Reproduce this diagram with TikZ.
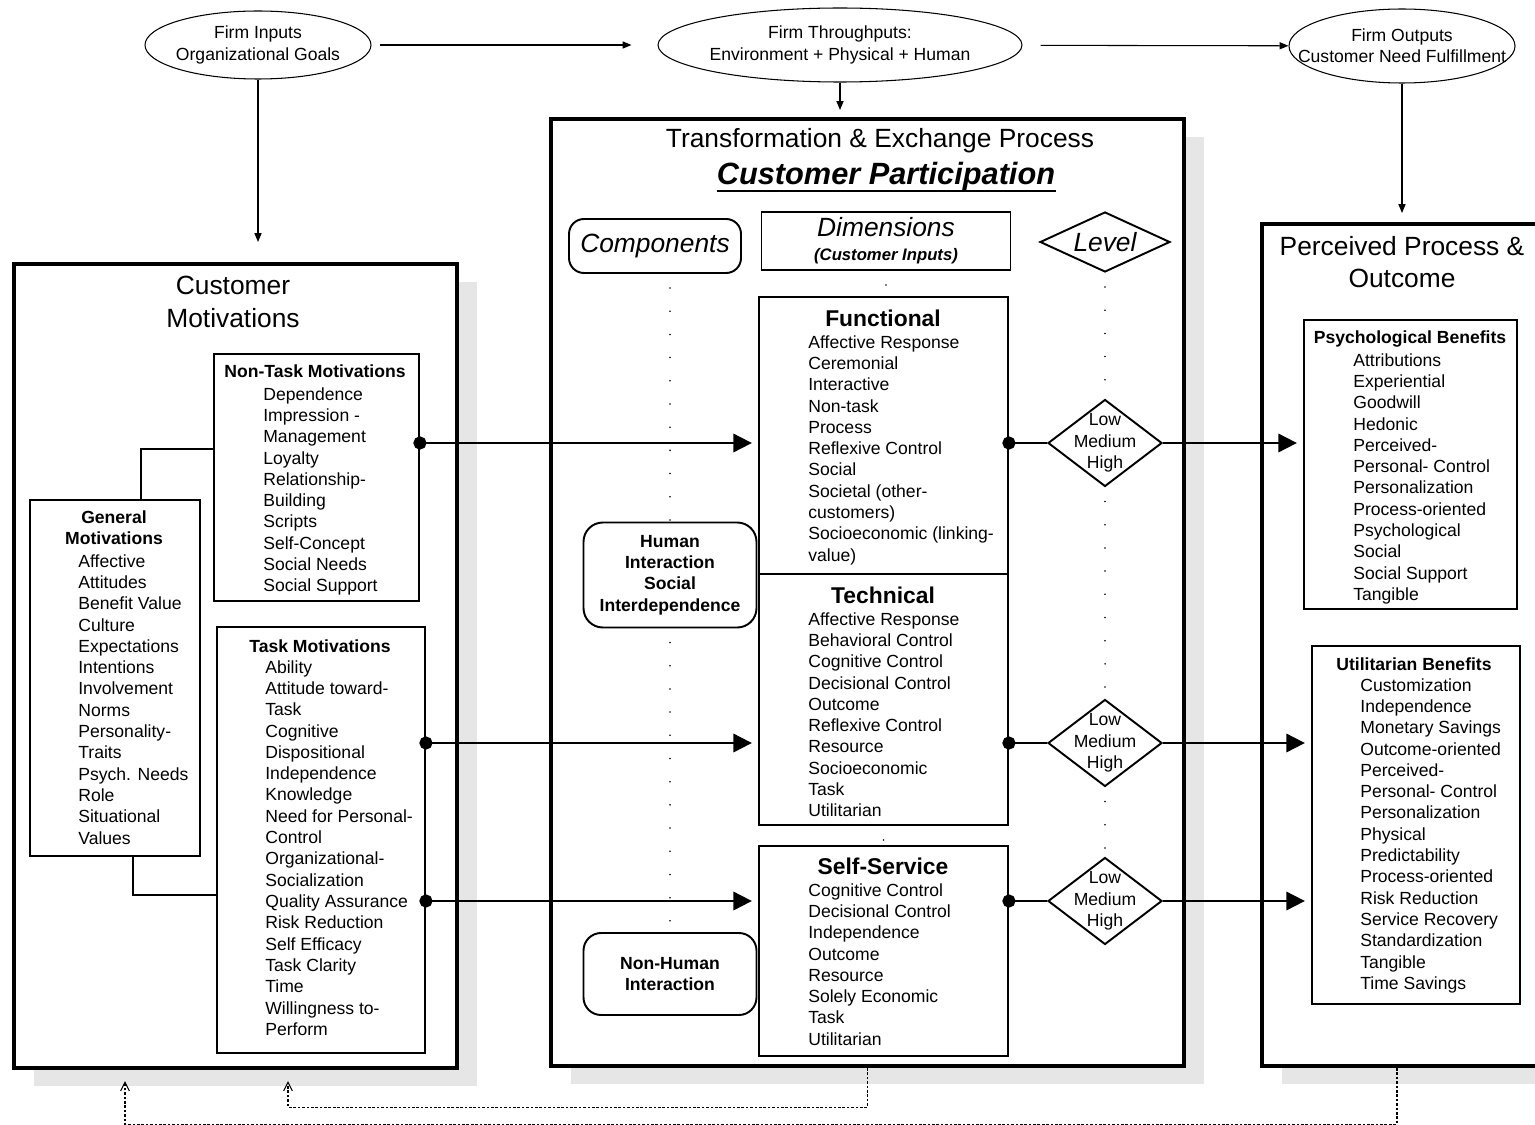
\documentclass[tikz,border=0pt]{standalone}
\usepackage{fontspec}
\setmainfont{Liberation Sans}
\usetikzlibrary{shapes.geometric,arrows.meta,calc,shadows}
\definecolor{shadowgray}{HTML}{E6E6E6}
\newdimen\unitpx \unitpx=0.02cm

\begin{document}
\begin{tikzpicture}[x=0.02cm, y=-0.02cm,
    font=\fontsize{10}{12.13}\selectfont,
    bigbox/.style={draw, line width=2.3pt, fill=white, anchor=north west, inner sep=0,
      drop shadow={shadow xshift=20\unitpx, shadow yshift=-18\unitpx, fill=shadowgray, opacity=1}},
    listbox/.style={draw, line width=1.1pt, fill=white, anchor=north west, inner sep=0},
    roundbox/.style={draw, line width=1.1pt, fill=white, align=center, inner sep=0},
    firmnode/.style={draw, ellipse, line width=0.6pt, inner sep=0},
    lvl/.style={draw, diamond, line width=1.1pt, fill=white, inner sep=0,
      minimum width=114\unitpx, minimum height=87\unitpx},
    bigtitle/.style={font=\fontsize{15}{18.5}\selectfont, align=center},
    boxtitle/.style={font=\fontsize{10}{12.13}\selectfont\bfseries, align=center},
    dimtitle/.style={font=\fontsize{13}{15}\selectfont\bfseries},
    items/.style={anchor=north west, inner sep=0, align=left},
    smallarrow/.style={line width=0.6pt, -{Triangle[length=5pt,width=4pt]}},
    link/.style={line width=1.1pt, {Circle[length=7.5pt]}-{Triangle[length=10.5pt,width=10.5pt]},
      shorten <=-3.75pt, shorten >=3.5pt},
    tolevel/.style={line width=1.1pt, {Circle[length=7.5pt]}-, shorten <=-3.75pt},
    tobenefit/.style={line width=1.1pt, -{Triangle[length=10.5pt,width=10.5pt]}, shorten >=3.5pt},
    thinline/.style={line width=0.6pt},
    dotcol/.style={line width=1pt, line cap=round, dash pattern=on 0pt off 13.2pt, shorten <=8pt},
    feed/.style={line width=0.6pt, dash pattern=on 1.5pt off 1pt, -{Straight Barb[length=5pt,width=5pt]}}]

    \useasboundingbox (0,0) rectangle (1535,1125);
    \clip (0,0) rectangle (1535,1125);

    % Firm inputs, throughputs and outputs
    \node[firmnode, minimum width=226\unitpx, minimum height=68\unitpx] (e1) at (258,45) {};
    \node[firmnode, minimum width=364\unitpx, minimum height=74\unitpx] (e2) at (840,45) {};
    \node[firmnode, minimum width=226\unitpx, minimum height=74\unitpx] (e3) at (1402,46) {};
    \node[align=center, inner sep=0] (e1-text) at (e1) {Firm Inputs\\Organizational Goals};
    \node[align=center, inner sep=0] (e2-text) at (e2) {Firm Throughputs:\\Environment + Physical + Human};
    \node[align=center, inner sep=0] (e3-text) at (e3) {Firm Outputs\\Customer Need Fulfillment};

    % The three main panels
    \node[bigbox, minimum width=443\unitpx, minimum height=804\unitpx] (leftbox) at (12,262) {};
    \node[bigbox, minimum width=633\unitpx, minimum height=947\unitpx] (centerbox) at (549,117) {};
    \node[bigbox, minimum width=300\unitpx, minimum height=842\unitpx] (rightbox) at (1260,222) {};

    \node[bigtitle] (lefttitle) at (233,302) {Customer\\Motivations};
    \node[bigtitle] (centertitle) at (880,141) {Transformation \& Exchange Process};
    \node[inner sep=0, font=\fontsize{17.5}{20}\selectfont\bfseries\itshape] (cptitle) at (886,177)
      {Customer Participation};
    \draw[line width=1.3pt] ([yshift=-3.5pt]cptitle.base west) -- ([yshift=-3.5pt]cptitle.base east);
    \node[bigtitle] (righttitle) at (1402,262) {Perceived Process \&\\Outcome};

    % Customer motivations
    \node[listbox, minimum width=205\unitpx, minimum height=247\unitpx] (nontask) at (213,353) {};
    \node[listbox, minimum width=170\unitpx, minimum height=356\unitpx] (general) at (29,499) {};
    \node[listbox, minimum width=208\unitpx, minimum height=426\unitpx] (task) at (216,626) {};

    \node[boxtitle] (nontask-title) at (315,371) {Non-Task Motivations};
    \node[items] (nontask-items) at (263,387) {Dependence\\Impression -\\Management\\Loyalty\\
      Relationship-\\Building\\Scripts\\Self-Concept\\Social Needs\\Social Support};
    \node[boxtitle] (general-title) at (114,528) {General\\Motivations};
    \node[items] (general-items) at (78,554) {Affective\\Attitudes\\Benefit Value\\Culture\\
      Expectations\\Intentions\\Involvement\\Norms\\Personality-\\Traits\\Psych. Needs\\Role\\
      Situational\\Values};
    \node[boxtitle] (task-title) at (320,646) {Task Motivations};
    \node[items] (task-items) at (265,660) {Ability\\Attitude toward-\\Task\\Cognitive\\
      Dispositional\\Independence\\Knowledge\\Need for Personal-\\Control\\Organizational-\\
      Socialization\\Quality Assurance\\Risk Reduction\\Self Efficacy\\Task Clarity\\Time\\
      Willingness to-\\Perform};

    \draw[thinline] ($(general.north west)+(112,0)$) |- ($(nontask.north west)+(0,96)$);
    \draw[thinline] ($(general.south west)+(104,0)$) |- ($(task.north west)+(0,269)$);

    % Column heads
    \node[roundbox, rounded corners=8.5pt, minimum width=172\unitpx, minimum height=54\unitpx,
      font=\fontsize{15}{18}\selectfont\itshape] (comp) at (655,246) {Components};
    \node[listbox, anchor=center, minimum width=249\unitpx, minimum height=58\unitpx, align=center]
      (dims) at (886,241) {{\fontsize{15}{17}\selectfont\itshape Dimensions}\\[1.5pt]
      {\fontsize{9.5}{11}\selectfont\bfseries\itshape (Customer Inputs)}};
    \node[draw, diamond, line width=1.1pt, fill=white, inner sep=0, aspect=2.2,
      minimum width=130\unitpx, minimum height=60\unitpx,
      font=\fontsize{15}{18}\selectfont\itshape] (level) at (1105,242) {Level};

    % Components
    \node[roundbox, rounded corners=11pt, minimum width=173\unitpx, minimum height=105\unitpx,
      font=\fontsize{10}{12.13}\selectfont\bfseries] (hi) at (670,575)
      {Human\\Interaction\\Social\\Interdependence};
    \node[roundbox, rounded corners=10pt, minimum width=173\unitpx, minimum height=82\unitpx,
      font=\fontsize{10}{12.13}\selectfont\bfseries] (nh) at (670,974) {Non-Human\\Interaction};

    % Dimensions
    \node[listbox, minimum width=249\unitpx, minimum height=277\unitpx] (func) at (758,296) {};
    \node[listbox, minimum width=249\unitpx, minimum height=251\unitpx] (tech) at (758,573) {};
    \node[listbox, minimum width=249\unitpx, minimum height=210\unitpx] (self) at (758,845) {};

    \node[dimtitle] (func-title) at (883,318) {Functional};
    \node[items] (func-items) at (808,335) {Affective Response\\Ceremonial\\Interactive\\Non-task\\
      Process\\Reflexive Control\\Social\\Societal (other-\\customers)\\Socioeconomic (linking-\\value)};
    \node[dimtitle] (tech-title) at (883,595) {Technical};
    \node[items] (tech-items) at (808,612) {Affective Response\\Behavioral Control\\Cognitive Control\\
      Decisional Control\\Outcome\\Reflexive Control\\Resource\\Socioeconomic\\Task\\Utilitarian};
    \node[dimtitle] (self-title) at (883,866) {Self-Service};
    \node[items] (self-items) at (808,883) {Cognitive Control\\Decisional Control\\Independence\\
      Outcome\\Resource\\Solely Economic\\Task\\Utilitarian};

    % Levels
    \node[lvl] (lvl1) at (1105,443) {};
    \node[lvl] (lvl2) at (1105,743) {};
    \node[lvl] (lvl3) at (1105,901) {};
    \node[inner sep=0, align=center] (lvl1-text) at (lvl1) {Low\\Medium\\High};
    \node[inner sep=0, align=center] (lvl2-text) at (lvl2) {Low\\Medium\\High};
    \node[inner sep=0, align=center] (lvl3-text) at (lvl3) {Low\\Medium\\High};

    % Benefits
    \node[listbox, minimum width=213\unitpx, minimum height=289\unitpx] (psych) at (1303,319) {};
    \node[listbox, minimum width=208\unitpx, minimum height=358\unitpx] (util) at (1311,645) {};

    \node[boxtitle] (psych-title) at (1410,339) {Psychological Benefits};
    \node[items] (psych-items) at (1353,353) {Attributions\\Experiential\\Goodwill\\Hedonic\\
      Perceived-\\Personal- Control\\Personalization\\Process-oriented\\Psychological\\Social\\
      Social Support\\Tangible};
    \node[boxtitle] (util-title) at (1414,664) {Utilitarian Benefits};
    \node[items] (util-items) at (1360,678) {Customization\\Independence\\Monetary Savings\\
      Outcome-oriented\\Perceived-\\Personal- Control\\Personalization\\Physical\\Predictability\\
      Process-oriented\\Risk Reduction\\Service Recovery\\Standardization\\Tangible\\Time Savings};

    % Dotted guides
    \draw[dotcol] (hi.north |- comp.south) -- (hi.north);
    \draw[dotcol] (hi.south) -- (nh.north);
    \draw[dotcol] (dims.south) -- (dims.south |- func.north);
    \draw[dotcol] (tech.south) -- (self.north);
    \draw[dotcol] (level.south) -- (lvl1.north);
    \draw[dotcol] (lvl1.south) -- (lvl2.north);
    \draw[dotcol] (lvl2.south) -- (lvl3.north);

    % Firm arrows
    \draw[smallarrow, shorten <=8\unitpx, shorten >=26\unitpx] (e1) -- (e2);
    \draw[smallarrow, shorten <=18\unitpx] (e2) -- (e3);
    \draw[smallarrow, shorten >=20\unitpx] (e1) -- (e1 |- leftbox.north);
    \draw[smallarrow, shorten >=7\unitpx] (e2) -- (e2 |- centerbox.north);
    \draw[smallarrow, shorten >=9\unitpx] (e3) -- (e3 |- rightbox.north);

    % Motivations to dimensions
    \draw[link] (nontask.east |- lvl1) -- (func.west |- lvl1);
    \draw[link] (task.east |- lvl2) -- (tech.west |- lvl2);
    \draw[link] (task.east |- lvl3) -- (self.west |- lvl3);

    % Dimensions to levels to benefits
    \draw[tolevel] (func.east |- lvl1) -- (lvl1.west);
    \draw[tolevel] (tech.east |- lvl2) -- (lvl2.west);
    \draw[tolevel] (self.east |- lvl3) -- (lvl3.west);
    \draw[tobenefit] (lvl1.east) -- (psych.west |- lvl1);
    \draw[tobenefit] (lvl2.east) -- (util.west |- lvl2);
    \draw[tobenefit] (lvl3.east) -- (util.west |- lvl3);

    % Feedback
    \draw[feed] (centerbox.south) -- ++(0,39) -| ($(leftbox.south west)+(276,11)$);
    \draw[feed] ($(rightbox.south west)+(137,0)$) -- ++(0,56) -| ($(leftbox.south west)+(113,11)$);

\end{tikzpicture}
\end{document}
